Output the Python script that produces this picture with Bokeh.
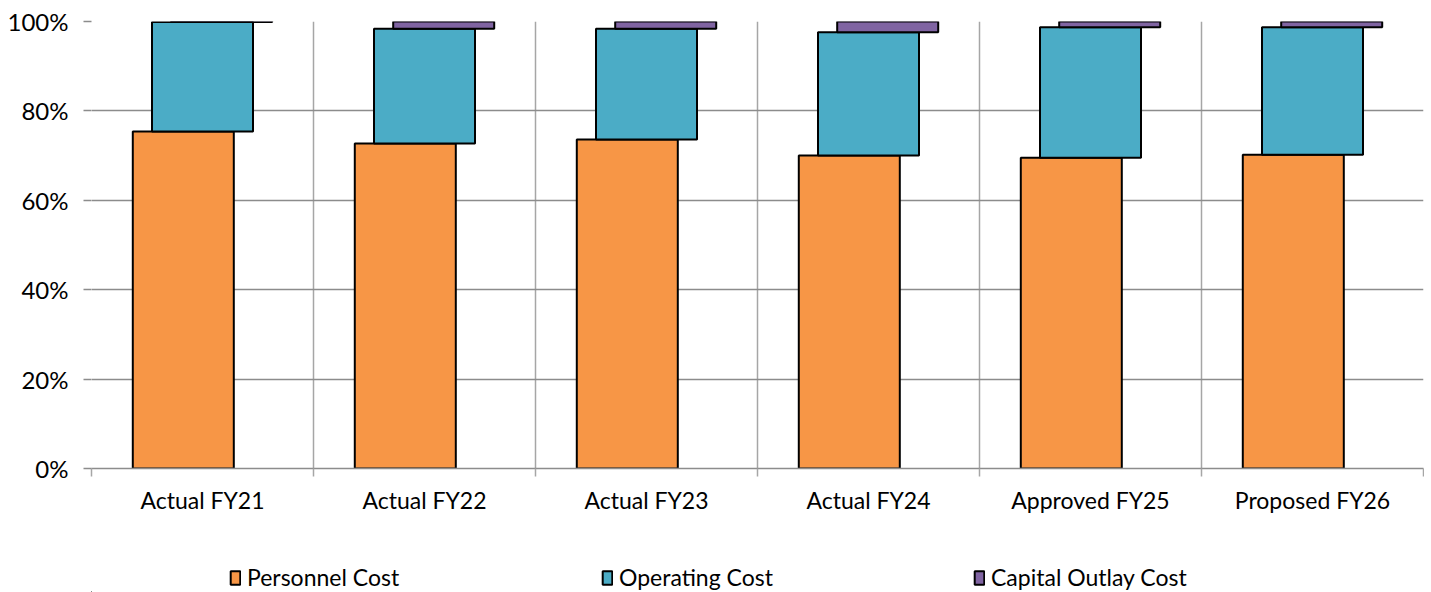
from bokeh.plotting import figure
from bokeh.layouts import column
from bokeh.models import Range1d, FixedTicker, NumeralTickFormatter, Legend, LegendItem, ColumnDataSource
from bokeh.embed import file_html
from bokeh.resources import INLINE

categories = ["Actual FY21", "Actual FY22", "Actual FY23", "Actual FY24", "Approved FY25", "Proposed FY26"]
personnel = [0.754, 0.727, 0.736, 0.700, 0.695, 0.702]
operating = [0.245, 0.257, 0.248, 0.276, 0.292, 0.285]
capital = [0.001, 0.016, 0.016, 0.024, 0.013, 0.013]
series_names = ["Personnel Cost", "Operating Cost", "Capital Outlay Cost"]
colors = ["#F79646", "#4BACC6", "#8064A2"]
offsets = [-0.0865, 0.0, 0.0865]

FONT = "Lato"
FS = "23px"
HGRID = "#8c8c8c"
VGRID = "#a6a6a6"

p = figure(output_backend="svg", toolbar_location=None,
           frame_width=1332, frame_height=447,
           min_border_left=91, min_border_top=21, min_border_right=1, min_border_bottom=50,
           x_range=Range1d(0, 6), y_range=Range1d(0, 1))
p.outline_line_color = None

n = len(categories)
centers = [i + 0.5 for i in range(n)]
series = [personnel, operating, capital]
bottom = [0.0] * n
for vals, col, off in zip(series, colors, offsets):
    top = [b + v for b, v in zip(bottom, vals)]
    src = ColumnDataSource(dict(x=[c + off for c in centers], bottom=list(bottom), top=top))
    p.vbar(x="x", bottom="bottom", top="top", width=0.455, source=src,
           fill_color=col, line_color="black", line_width=2)
    bottom = top

# x axis
xa = p.xaxis[0]
xa.ticker = FixedTicker(ticks=centers, minor_ticks=list(range(n + 1)))
xa.major_label_overrides = {c: cat for c, cat in zip(centers, categories)}
xa.major_tick_line_color = None
xa.major_tick_out = 8
xa.major_tick_in = 0
xa.minor_tick_line_color = VGRID
xa.minor_tick_line_width = 1.5
xa.minor_tick_out = 8
xa.minor_tick_in = 0
xa.axis_line_color = HGRID
xa.axis_line_width = 1.5
xa.major_label_text_font = FONT
xa.major_label_text_font_size = FS
xa.major_label_text_color = "black"
xa.major_label_standoff = 9

p.xgrid.ticker = FixedTicker(ticks=list(range(n + 1)))
p.xgrid.grid_line_color = VGRID
p.xgrid.grid_line_width = 1.5

# y axis
ya = p.yaxis[0]
ya.ticker = FixedTicker(ticks=[0, 0.2, 0.4, 0.6, 0.8, 1.0])
ya.formatter = NumeralTickFormatter(format="0%")
ya.axis_line_color = None
ya.major_tick_line_color = HGRID
ya.major_tick_line_width = 1.5
ya.major_tick_out = 8
ya.major_tick_in = 0
ya.minor_tick_line_color = None
ya.major_label_text_font = FONT
ya.major_label_text_font_size = "24px"
ya.major_label_text_color = "black"
ya.major_label_standoff = 15

p.ygrid.grid_line_color = HGRID
p.ygrid.grid_line_width = 1.5

# legend strip (separate figure below the chart); proxy glyphs sit outside its visible range
leg_fig = figure(output_backend="svg", toolbar_location=None,
                 frame_width=1425, frame_height=74,
                 min_border_left=0, min_border_right=0, min_border_top=0, min_border_bottom=0,
                 x_range=Range1d(0, 1), y_range=Range1d(0, 1))
leg_fig.outline_line_color = None
leg_fig.axis.visible = False
leg_fig.grid.visible = False
items = []
for name, col in zip(series_names, colors):
    r = leg_fig.vbar(x=[-10], top=[-10], bottom=[-11], width=0.1,
                     fill_color=col, line_color="black", line_width=2)
    items.append(LegendItem(label=name, renderers=[r]))
lg = Legend(items=items, location=(229, 1), orientation="horizontal",
            glyph_width=12, glyph_height=17, label_standoff=6, label_width=300, spacing=54,
            padding=0, margin=0, border_line_color=None, background_fill_alpha=0,
            label_text_font=FONT, label_text_font_size=FS, label_text_color="black")
leg_fig.add_layout(lg, "center")

layout = column(p, leg_fig)
open("out.html", "w").write(file_html(layout, INLINE))
